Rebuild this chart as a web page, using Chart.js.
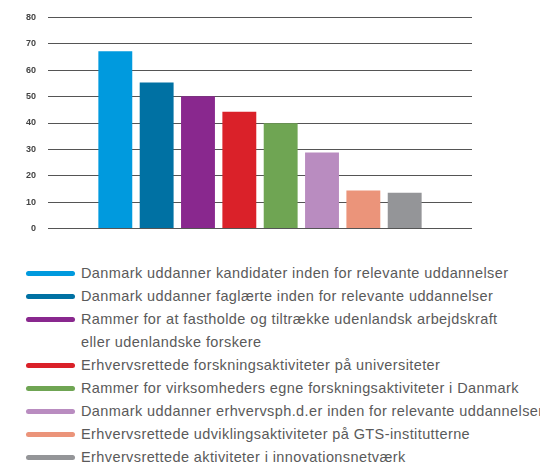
<!DOCTYPE html>
<html>
<head>
<meta charset="utf-8">
<script src="https://cdn.jsdelivr.net/npm/chart.js@4"></script>
<style>
  html, body { margin: 0; padding: 0; background: #fff; }
  body { width: 540px; height: 464px; overflow: hidden; position: relative; }
  #chartBox { position: absolute; left: 0; top: 0; width: 540px; height: 246px; }
  #legend { position: absolute; left: 0; top: 262px; width: 540px; }
  .row { position: relative; height: 23px; white-space: nowrap;
         font-family: "Liberation Sans", Arial, sans-serif; font-size: 14.5px;
         letter-spacing: 0.4px; color: #5a5a5a; line-height: 23px; }
  .row .sw { position: absolute; left: 26px; top: 9px; width: 49px; height: 5px; border-radius: 3px; }
  .row .tx { position: absolute; left: 81px; top: 0; }
</style>
</head>
<body>
<div id="chartBox"><canvas id="barChart"></canvas></div>
<div id="legend"></div>
<script>
const categories = [
  "Danmark uddanner kandidater inden for relevante uddannelser",
  "Danmark uddanner faglærte inden for relevante uddannelser",
  ["Rammer for at fastholde og tiltrække udenlandsk arbejdskraft", "eller udenlandske forskere"],
  "Erhvervsrettede forskningsaktiviteter på universiteter",
  "Rammer for virksomheders egne forskningsaktiviteter i Danmark",
  "Danmark uddanner erhvervsph.d.er inden for relevante uddannelser",
  "Erhvervsrettede udviklingsaktiviteter på GTS-institutterne",
  "Erhvervsrettede aktiviteter i innovationsnetværk",
];
const values = [67.2, 55.3, 50.1, 44.3, 39.9, 28.8, 14.4, 13.6];
const colors = ["#009ade", "#0071a3", "#89288e", "#da2129", "#6fa553", "#b98cc0", "#eb947a", "#949598"];
const yTicks = [0, 10, 20, 30, 40, 50, 60, 70, 80];

// one dataset per bar, all in one category, so each gets its own colour
const datasets = values.map((v, i) => ({
  label: Array.isArray(categories[i]) ? categories[i].join(" ") : categories[i],
  data: [v],
  backgroundColor: colors[i],
  borderWidth: 0,
  barPercentage: 0.82,
  categoryPercentage: 0.78,
}));

new Chart(document.getElementById("barChart"), {
  type: "bar",
  data: { labels: [""], datasets: datasets },
  options: {
    responsive: true,
    maintainAspectRatio: false,
    animation: false,
    layout: { padding: { top: 17, bottom: 7, right: 68, left: 0 } },
    plugins: { legend: { display: false }, tooltip: { enabled: false } },
    scales: {
      x: {
        display: false,
        offset: true,
      },
      y: {
        min: 0,
        max: 80,
        afterFit: (scale) => { scale.width = 48; },
        afterBuildTicks: (scale) => { scale.ticks = yTicks.map((v) => ({ value: v })); },
        border: { display: false },
        grid: { color: "#555", lineWidth: 1, drawTicks: false },
        ticks: {
          padding: 12,
          color: "#444",
          font: { family: "Liberation Sans", size: 9, weight: "bold" },
        },
      },
    },
  },
});

// legend drawn as html, one line swatch per bar
const legend = document.getElementById("legend");
categories.forEach((c, i) => {
  const lines = Array.isArray(c) ? c : [c];
  lines.forEach((t, j) => {
    const row = document.createElement("div");
    row.className = "row";
    if (j === 0) {
      const sw = document.createElement("div");
      sw.className = "sw";
      sw.style.background = colors[i];
      row.appendChild(sw);
    }
    const tx = document.createElement("span");
    tx.className = "tx";
    tx.textContent = t;
    row.appendChild(tx);
    legend.appendChild(row);
  });
});
</script>
</body>
</html>
